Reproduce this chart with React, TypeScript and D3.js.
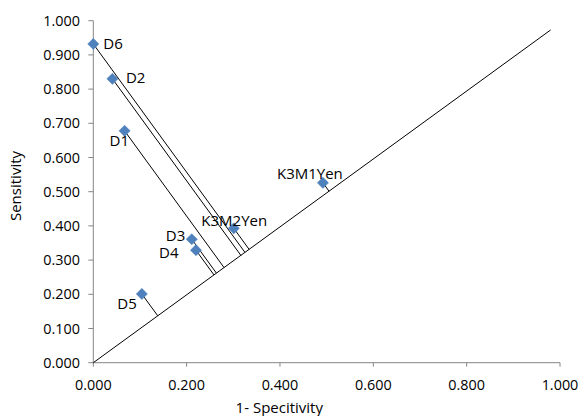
import React from "react";
import * as d3 from "d3";

// ---- data ----
const names = ["D6", "D2", "D1", "D3", "D4", "D5", "K3M2Yen", "K3M1Yen"];
const fpr = [0.0, 0.041, 0.067, 0.211, 0.22, 0.104, 0.301, 0.492]; // 1 - specificity
const tpr = [0.932, 0.83, 0.678, 0.361, 0.329, 0.201, 0.393, 0.526]; // sensitivity
const diagonalStart = [0, 0];
const diagonalEnd = [0.98, 0.973];
const xTicks = [0, 0.2, 0.4, 0.6, 0.8, 1.0];
const yTicks = [0, 0.1, 0.2, 0.3, 0.4, 0.5, 0.6, 0.7, 0.8, 0.9, 1.0];
const xTitle = "1- Specitivity";
const yTitle = "Sensitivity";

// label placement (styling)
const labelPlacement: Record<string, { dx: number; dy: number; anchor: string }> = {
  D6: { dx: 10, dy: 5.5, anchor: "start" },
  D2: { dx: 13.5, dy: 4.5, anchor: "start" },
  D1: { dx: -15, dy: 15, anchor: "start" },
  D3: { dx: -6.5, dy: 1.5, anchor: "end" },
  D4: { dx: -17.5, dy: 7.5, anchor: "end" },
  D5: { dx: -5, dy: 15, anchor: "end" },
  K3M2Yen: { dx: 0.5, dy: -2.3, anchor: "middle" },
  K3M1Yen: { dx: -13, dy: -3.4, anchor: "middle" },
};

const W = 579;
const H = 416;
const FONT = "'Open Sans', sans-serif";
const AXIS = "#868686";
const TICK_FS = 14.4;
const LABEL_FS = 15;

export default function App() {
  const x = d3.scaleLinear().domain([0, 1]).range([93.3, 560]);
  const y = d3.scaleLinear().domain([0, 1]).range([362.7, 20.7]);

  const dx0 = x(diagonalStart[0]);
  const dy0 = y(diagonalStart[1]);
  const dx1 = x(diagonalEnd[0]);
  const dy1 = y(diagonalEnd[1]);
  const vx = dx1 - dx0;
  const vy = dy1 - dy0;
  const vv = vx * vx + vy * vy;

  const pts = names.map((n, i) => {
    const px = x(fpr[i]);
    const py = y(tpr[i]);
    const t = ((px - dx0) * vx + (py - dy0) * vy) / vv;
    return { n, px, py, fx: dx0 + t * vx, fy: dy0 + t * vy };
  });

  const line = d3.line<[number, number]>();
  const ms = 5.6;

  return (
    <svg
      width={W}
      height={H}
      style={{ position: "absolute", left: 0, top: 0, background: "#fff" }}
      fontFamily={FONT}
    >
      <rect x={0} y={0} width={W} height={H} fill="#fff" />
      {/* axes */}
      <line x1={x(0)} x2={x(0)} y1={y(1)} y2={y(0)} stroke={AXIS} strokeWidth={1} />
      <line x1={x(0)} x2={x(1)} y1={y(0)} y2={y(0)} stroke={AXIS} strokeWidth={1} />
      {yTicks.map((t) => (
        <g key={"y" + t}>
          <line x1={x(0) - 5} x2={x(0)} y1={y(t)} y2={y(t)} stroke={AXIS} />
          <text x={80} y={y(t)} dy="0.36em" textAnchor="end" fontSize={TICK_FS} fill="#000">
            {d3.format(".3f")(t)}
          </text>
        </g>
      ))}
      {xTicks.map((t) => (
        <g key={"x" + t}>
          <line x1={x(t)} x2={x(t)} y1={y(0)} y2={y(0) + 4} stroke={AXIS} />
          <text x={x(t)} y={389.5} textAnchor="middle" fontSize={TICK_FS} fill="#000">
            {d3.format(".3f")(t)}
          </text>
        </g>
      ))}
      <text x={279.3} y={412.5} textAnchor="middle" fontSize={LABEL_FS} fill="#000">
        {xTitle}
      </text>
      <text
        transform={`translate(21,186) rotate(-90)`}
        textAnchor="middle"
        fontSize={LABEL_FS}
        fill="#000"
      >
        {yTitle}
      </text>

      {/* diagonal */}
      <path
        d={line([
          [dx0, dy0],
          [dx1, dy1],
        ]) || ""}
        stroke="#000"
        strokeWidth={1}
        fill="none"
      />
      {/* perpendicular distances */}
      {pts.map((p) => (
        <path
          key={"l" + p.n}
          d={line([
            [p.px, p.py],
            [p.fx, p.fy],
          ]) || ""}
          stroke="#000"
          strokeWidth={1}
          fill="none"
        />
      ))}
      {/* markers */}
      {pts.map((p) => (
        <path
          key={"m" + p.n}
          d={`M${p.px},${p.py - ms}L${p.px + ms},${p.py}L${p.px},${p.py + ms}L${p.px - ms},${p.py}Z`}
          fill="#4F81BD"
          stroke="#4F81BD"
          strokeWidth={0.5}
        />
      ))}
      {/* labels */}
      {pts.map((p) => {
        const lp = labelPlacement[p.n];
        return (
          <text
            key={"t" + p.n}
            x={p.px + lp.dx}
            y={p.py + lp.dy}
            textAnchor={lp.anchor as any}
            fontSize={LABEL_FS}
            fill="#000"
          >
            {p.n}
          </text>
        );
      })}
    </svg>
  );
}
